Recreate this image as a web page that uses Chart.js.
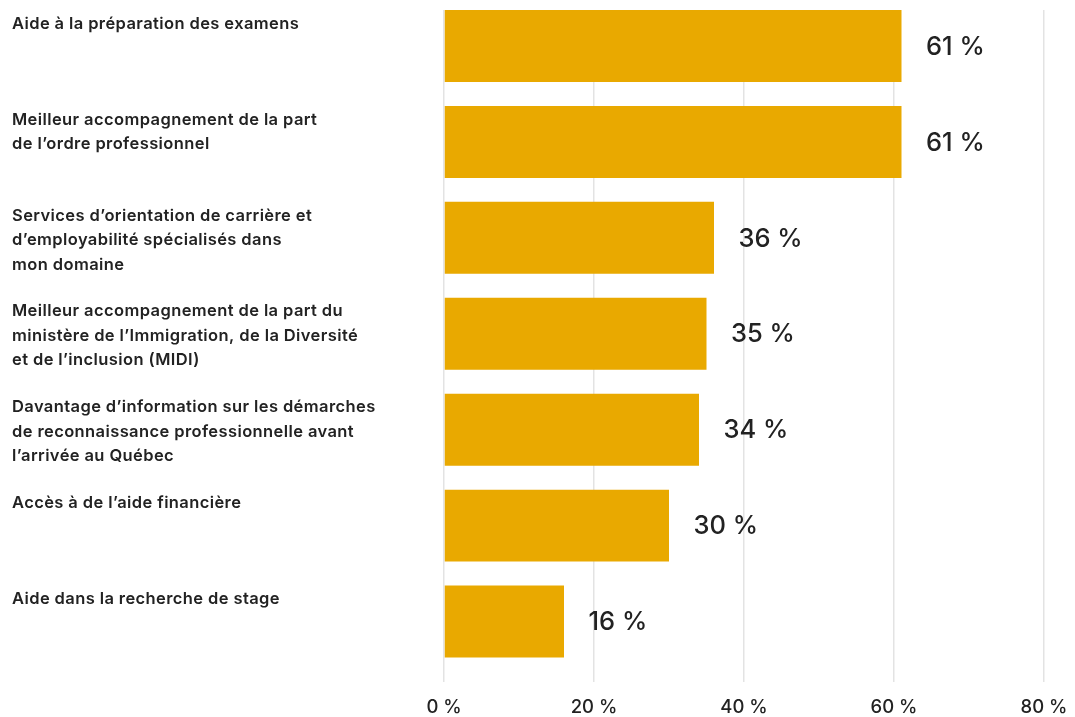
<!DOCTYPE html>
<html lang="fr">
<head>
<meta charset="utf-8">
<title>Mesures de soutien souhaitées</title>
<script src="https://cdn.jsdelivr.net/npm/chart.js@4/dist/chart.umd.min.js"></script>
<style>
  html, body { margin: 0; padding: 0; background: #ffffff; }
  #wrap { position: relative; width: 1075px; height: 717px; }
</style>
</head>
<body>
<div id="wrap"><canvas id="chart"></canvas></div>
<script>
// Categories, one entry per line of the label as it is broken on screen
const categories = [
  ["Aide à la préparation des examens"],
  ["Meilleur accompagnement de la part", "de l’ordre professionnel"],
  ["Services d’orientation de carrière et", "d’employabilité spécialisés dans", "mon domaine"],
  ["Meilleur accompagnement de la part du", "ministère de l’Immigration, de la Diversité", "et de l’inclusion (MIDI)"],
  ["Davantage d’information sur les démarches", "de reconnaissance professionnelle avant", "l’arrivée au Québec"],
  ["Accès à de l’aide financière"],
  ["Aide dans la recherche de stage"]
];

// Share of respondents (%)
const values = [61, 61, 36, 35, 34, 30, 16];

// Value axis ticks
const xTicks = [0, 20, 40, 60, 80];

const FONT = "Inter, 'Noto Sans', 'DejaVu Sans', sans-serif";
const TEXT = "#222222";
const BAR = "#E9A900";

// Bars sit on a linear index axis so each bar can hug the top of its row
const points = values.map((v, i) => ({ x: v, y: i }));

// Category labels, left-aligned in the margin and top-aligned with each bar
const categoryLabels = {
  id: "categoryLabels",
  afterDatasetsDraw(chart) {
    const ctx = chart.ctx;
    const meta = chart.getDatasetMeta(0);
    ctx.save();
    ctx.font = "600 16.5px " + FONT;
    ctx.letterSpacing = "0.4px";
    ctx.fillStyle = TEXT;
    ctx.textAlign = "left";
    ctx.textBaseline = "alphabetic";
    meta.data.forEach((bar, i) => {
      const top = bar.y - bar.height / 2;
      categories[i].forEach((line, j) => {
        ctx.fillText(line, 12, top + 18.7 + j * 24.5);
      });
    });
    ctx.restore();
  }
};

// Value labels to the right of each bar end
const valueLabels = {
  id: "valueLabels",
  afterDatasetsDraw(chart) {
    const ctx = chart.ctx;
    const meta = chart.getDatasetMeta(0);
    ctx.save();
    ctx.font = "500 25.5px " + FONT;
    ctx.fillStyle = TEXT;
    ctx.textAlign = "left";
    ctx.textBaseline = "middle";
    meta.data.forEach((bar, i) => {
      ctx.fillText(values[i] + " %", bar.x + 24.5, bar.y + 1);
    });
    ctx.restore();
  }
};

new Chart(document.getElementById("chart"), {
  type: "bar",
  data: {
    datasets: [{
      data: points,
      backgroundColor: BAR,
      borderWidth: 0,
      categoryPercentage: 1,
      barPercentage: 0.75
    }]
  },
  options: {
    indexAxis: "y",
    responsive: true,
    maintainAspectRatio: false,
    animation: false,
    layout: { padding: { top: 10, left: 444, right: 31, bottom: 0 } },
    plugins: {
      legend: { display: false },
      tooltip: { enabled: false }
    },
    scales: {
      x: {
        type: "linear",
        position: "bottom",
        min: xTicks[0],
        max: xTicks[xTicks.length - 1],
        afterBuildTicks(scale) {
          scale.ticks = xTicks.map(v => ({ value: v }));
        },
        afterFit(scale) {
          scale.height = 35.5;
          scale.paddingLeft = 0;
          scale.paddingRight = 0;
        },
        grid: { color: "#e3e3e3", lineWidth: 1.5, drawTicks: false },
        border: { display: false },
        ticks: {
          padding: 15,
          color: TEXT,
          font: { family: FONT, size: 18.5, weight: "500" },
          callback: v => v + " %"
        }
      },
      y: {
        type: "linear",
        display: false,
        offset: false,
        reverse: true,
        min: -0.375,
        max: categories.length - 0.375,
        afterBuildTicks(scale) {
          scale.ticks = categories.map((_, i) => ({ value: i }));
        },
        grid: { display: false }
      }
    }
  },
  plugins: [categoryLabels, valueLabels]
});
</script>
</body>
</html>
